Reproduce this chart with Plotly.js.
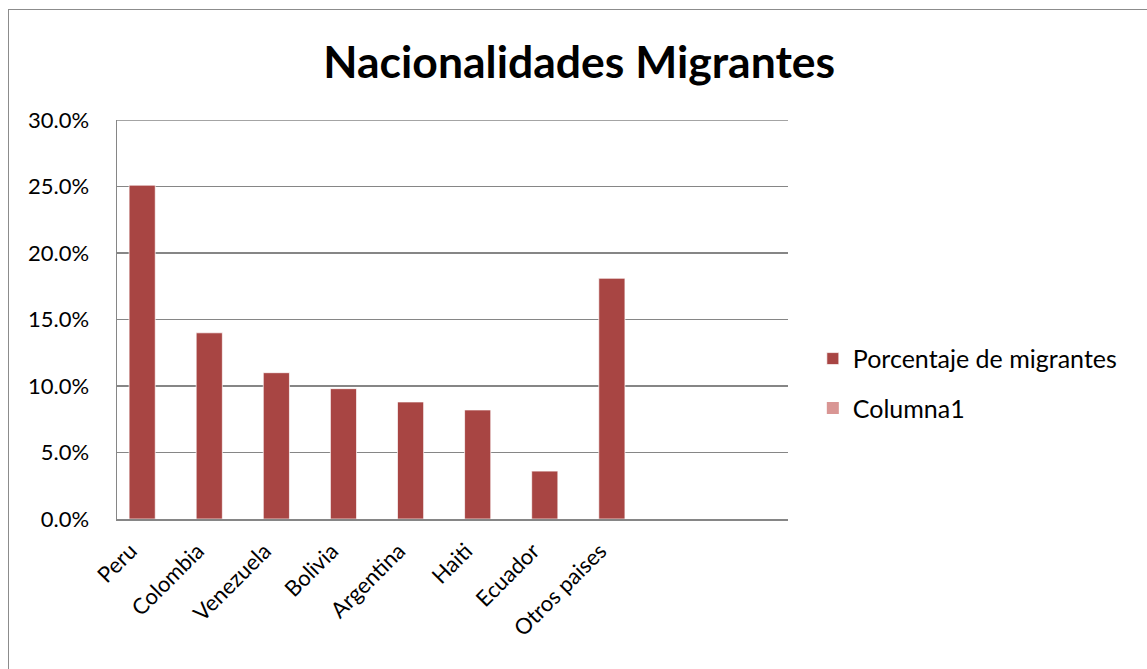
<!DOCTYPE html>
<html>
<head>
<meta charset="utf-8">
<script src="https://cdn.plot.ly/plotly-3.0.1.min.js"></script>
<style>
  html, body { margin: 0; padding: 0; background: #fff; }
  #chart { width: 1147px; height: 669px; }
  #frame { position: absolute; left: 8px; top: 9px; width: 1200px; height: 800px; border: 1.5px solid #8c8c8c; pointer-events: none; }
</style>
</head>
<body>
<div id="chart"></div>
<div id="frame"></div>
<script>
const categories = ["Peru", "Colombia", "Venezuela", "Bolivia", "Argentina", "Haiti", "Ecuador", "Otros paises"];
const porcentajeMigrantes = [0.251, 0.140, 0.110, 0.098, 0.088, 0.082, 0.036, 0.181];
const columna1 = [null, null, null, null, null, null, null, null];
const yTickValues = [0, 0.05, 0.10, 0.15, 0.20, 0.25, 0.30];
const yTickLabels = ["0.0%", "5.0%", "10.0%", "15.0%", "20.0%", "25.0%", "30.0%"];

const FONT = "Lato, 'Open Sans', sans-serif";
const yMax = yTickValues[yTickValues.length - 1];

const traces = [
  {
    type: "bar",
    name: "Porcentaje de migrantes",
    x: categories,
    y: porcentajeMigrantes,
    width: 0.39,
    offset: -0.32,
    marker: { color: "#A84543", line: { color: "rgba(255,255,255,0.7)", width: 1 } },
    legendgroup: "a",
    hoverinfo: "x+y"
  },
  {
    type: "bar",
    name: "Columna1",
    x: categories,
    y: columna1,
    width: 0.39,
    offset: 0.07,
    marker: { color: "#D99694" },
    legendgroup: "b",
    showlegend: true
  }
];

const layout = {
  width: 1147,
  height: 669,
  margin: { l: 117, r: 359, t: 120, b: 150 },
  paper_bgcolor: "#ffffff",
  plot_bgcolor: "#ffffff",
  barmode: "overlay",
  font: { family: FONT, size: 22, color: "#000" },
  title: {
    text: "<b>Nacionalidades Migrantes</b>",
    font: { family: FONT, size: 44.5, color: "#000" },
    x: 0.505, xanchor: "center",
    y: 0.907, yanchor: "middle"
  },
  xaxis: {
    type: "category",
    range: [-0.5, 9.5],
    tickangle: -45,
    showgrid: false,
    showline: true,
    linecolor: "#868686",
    linewidth: 1.5,
    ticks: "",
    ticklabelshift: -20,
    ticklabelstandoff: 9,
    tickfont: { family: FONT, size: 22, color: "#000" },
    fixedrange: true
  },
  yaxis: {
    range: [0, yMax],
    tickvals: yTickValues,
    ticktext: yTickLabels,
    showgrid: true,
    gridcolor: "#868686",
    gridwidth: 1.5,
    zeroline: false,
    showline: true,
    linecolor: "#868686",
    linewidth: 1.5,
    ticks: "",
    ticklabelstandoff: 22,
    tickfont: { family: FONT, size: 22, color: "#000" },
    fixedrange: true
  },
  shapes: [
    {
      type: "line", xref: "paper", yref: "y",
      x0: 0, x1: 1, y0: yMax, y1: yMax,
      line: { color: "#868686", width: 1.5 },
      layer: "below"
    }
  ],
  showlegend: true,
  legend: {
    x: 1.037, xanchor: "left",
    y: 0.34, yanchor: "middle",
    traceorder: "grouped",
    tracegroupgap: 14,
    font: { family: FONT, size: 25, color: "#000" },
    itemwidth: 30,
    bgcolor: "rgba(0,0,0,0)"
  }
};

Plotly.newPlot("chart", traces, layout, { displayModeBar: false, staticPlot: true });
</script>
</body>
</html>
